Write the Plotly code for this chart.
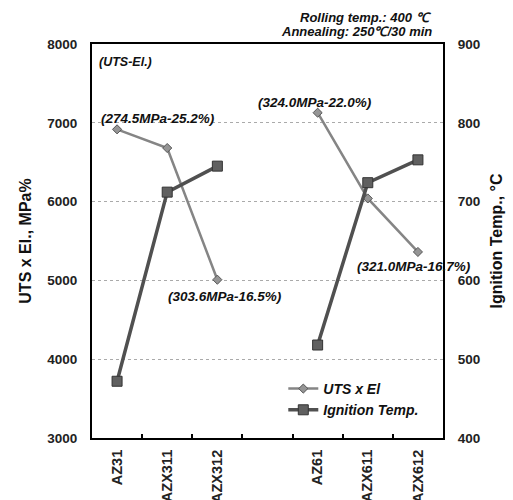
import plotly.graph_objects as go

categories = ["AZ31", "AZX311", "AZX312", " ", "AZ61", "AZX611", "AZX612"]
uts_el = [6917, 6680, 5009, None, 7128, 6040, 5361]
ignition = [472, 712, 745, None, 518, 724, 753]
labels = ["(274.5MPa-25.2%)", "(303.6MPa-16.5%)", "(324.0MPa-22.0%)", "(321.0MPa-16.7%)"]

FONT = "Liberation Sans"

fig = go.Figure()
fig.add_trace(go.Scatter(
    x=categories, y=uts_el, name="UTS x El", mode="lines+markers",
    line=dict(color="#858585", width=2.5),
    marker=dict(symbol="diamond", size=7, color="#959595", line=dict(color="#555", width=1)),
    connectgaps=False, yaxis="y"))
fig.add_trace(go.Scatter(
    x=categories, y=ignition, name="Ignition Temp.", mode="lines+markers",
    line=dict(color="#505050", width=3.5),
    marker=dict(symbol="square", size=10, color="#606060", line=dict(color="#333", width=1)),
    connectgaps=False, yaxis="y2"))

ann_font = dict(family=FONT, size=13.5, color="#111", weight="bold", style="italic")
top_font = dict(family=FONT, size=13, color="#111", weight="bold", style="italic")
anns = [
    dict(x=0, y=0.978, xref="paper", yref="paper", text="(UTS-El.)", showarrow=False,
         xanchor="left", yanchor="top", xshift=5,
         font=dict(family=FONT, size=12.5, color="#111", weight="bold", style="italic")),
    dict(x=0.975, y=1.068, xref="paper", yref="paper", text="Rolling temp.: 400 \u2103", showarrow=False,
         xanchor="right", yanchor="middle", font=top_font),
    dict(x=0.975, y=1.032, xref="paper", yref="paper", text="Annealing: 250\u2103/30 min", showarrow=False,
         xanchor="right", yanchor="middle", font=top_font),
    dict(x="AZ31", y=7060, text=labels[0], showarrow=False, xanchor="left",
         xshift=-18, font=ann_font),
    dict(x="AZX312", y=4800, text=labels[1], showarrow=False, xanchor="center",
         xshift=8, font=ann_font),
    dict(x="AZ61", y=7260, text=labels[2], showarrow=False, xanchor="left",
         xshift=-62, font=ann_font),
    dict(x="AZX612", y=5180, text=labels[3], showarrow=False, xanchor="center",
         xshift=-4, font=ann_font),
]
fig.update_layout(annotations=anns)

tick_font = dict(family=FONT, size=13.5, color="#222", weight="bold")

fig.update_layout(
    width=513, height=500,
    margin=dict(l=92, r=70, t=44, b=62, autoexpand=False),
    plot_bgcolor="white", paper_bgcolor="white",
    font=dict(family=FONT, color="#111"),
    showlegend=True,
    legend=dict(x=0.545, y=0.165, xanchor="left", yanchor="top", bgcolor="rgba(0,0,0,0)",
                font=dict(family=FONT, size=14, color="#111", weight="bold", style="italic"),
                tracegroupgap=0, itemwidth=30),
    xaxis=dict(type="category", categoryorder="array", categoryarray=categories,
               range=[-0.5, 6.5], showline=True, linecolor="black", linewidth=2, mirror=True,
               tickson="boundaries", ticks="inside", ticklen=4, tickcolor="black", tickwidth=1.5,
               tickangle=-90, tickfont=dict(family=FONT, size=14.5, color="#222", weight="bold"),
               showgrid=False, automargin=False, ticklabelstandoff=4),
    yaxis=dict(title=dict(text="UTS x El., MPa%", font=dict(family=FONT, size=16, weight="bold"), standoff=12),
               range=[3000, 8000], dtick=1000, showline=True, linecolor="black", linewidth=2,
               showgrid=True, gridcolor="#aaa", griddash="dot", gridwidth=1,
               tickfont=tick_font, ticklabelstandoff=10, automargin=False,
               zeroline=False, tickformat="d"),
    yaxis2=dict(title=dict(text="Ignition Temp., \u00b0C", font=dict(family=FONT, size=16, weight="bold"), standoff=12),
                range=[400, 900], dtick=100, overlaying="y", side="right", showline=True,
                linecolor="black", linewidth=2, showgrid=False, zeroline=False, automargin=False,
                tickfont=tick_font, ticklabelstandoff=10),
)

fig.write_html("out.html")
